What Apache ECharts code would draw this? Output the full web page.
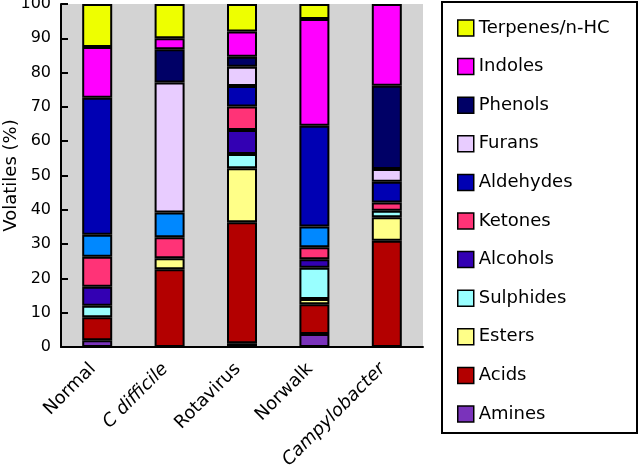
<!DOCTYPE html>
<html>
<head>
<meta charset="utf-8">
<script src="https://cdn.jsdelivr.net/npm/echarts@6/dist/echarts.min.js"></script>
<style>
  html, body { margin: 0; padding: 0; background: #fff; }
  #chart { width: 640px; height: 465px; }
</style>
</head>
<body>
<div id="chart"></div>
<script>
// categories along the x axis
var categories = ['Normal', 'C difficile', 'Rotavirus', 'Norwalk', 'Campylobacter'];

// stacked from the bottom up (values in %)
var amines     = [2.0, 0,    1.1,  3.8,  0];
var acids      = [6.7, 22.7, 35.3, 8.7,  31.0];
var esters     = [0,   3.2,  15.7, 1.5,  6.8];
var sulphides  = [3.3, 0,    4.2,  9.1,  1.9];
var alcohols   = [5.6, 0,    7.0,  2.5,  0];
var ketones    = [8.7, 6.1,  6.8,  3.5,  2.4];
var other      = [6.4, 7.2,  0,    6.0,  0];   // light blue band, not in the legend
var aldehydes  = [40.0, 0,   6.0,  29.4, 6.1];
var furans     = [0,   37.9, 5.6,  0,    3.7];
var phenols    = [0,   9.7,  2.9,  0,    24.3];
var indoles    = [14.8, 3.2, 7.4,  31.1, 23.8];
var terpenes   = [12.5, 10.0, 8.0, 4.4,  0];

var yTicks = [0, 10, 20, 30, 40, 50, 60, 70, 80, 90, 100];

var FONT = 'DejaVu Sans';

var seriesDefs = [
  ['Amines', amines, '#7a33bb'],
  ['Acids', acids, '#b30000'],
  ['Esters', esters, '#ffff88'],
  ['Sulphides', sulphides, '#99ffff'],
  ['Alcohols', alcohols, '#3300b3'],
  ['Ketones', ketones, '#ff3377'],
  ['Other', other, '#0088ff'],
  ['Aldehydes', aldehydes, '#0000b3'],
  ['Furans', furans, '#e8ccff'],
  ['Phenols', phenols, '#000066'],
  ['Indoles', indoles, '#ff00ff'],
  ['Terpenes/n-HC', terpenes, '#eeff00']
];

var legendNames = seriesDefs.map(function (d) { return d[0]; })
  .filter(function (n) { return n !== 'Other'; }).reverse();

var series = seriesDefs.map(function (d) {
  return {
    name: d[0],
    type: 'bar',
    stack: 'total',
    barWidth: 30,
    data: d[1].map(function (v) { return v === 0 ? '-' : v; }),
    itemStyle: { color: d[2], borderColor: '#000', borderWidth: 2 }
  };
});

var chart = echarts.init(document.getElementById('chart'));
chart.setOption({
  animation: false,
  textStyle: { fontFamily: FONT, color: '#000' },
  grid: {
    left: 61, right: 217, top: 4, bottom: 118,
    outerBoundsMode: 'none', containLabel: false,
    show: true, backgroundColor: '#d3d3d3', borderWidth: 0
  },
  legend: {
    data: legendNames,
    orient: 'vertical',
    left: 457, top: 19,
    padding: 0,
    itemWidth: 16, itemHeight: 16,
    itemGap: 20.6,
    icon: 'rect',
    itemStyle: { borderColor: '#000', borderWidth: 1.5 },
    textStyle: { fontSize: 18, color: '#000', fontFamily: FONT },
    selectedMode: false
  },
  graphic: [{
    type: 'rect',
    shape: { x: 442, y: 2, width: 195, height: 431 },
    style: { fill: 'none', stroke: '#000', lineWidth: 2 }
  }],
  xAxis: {
    type: 'category',
    data: categories,
    axisLine: { lineStyle: { color: '#000', width: 2 } },
    axisTick: { inside: true, length: 6, lineStyle: { width: 2 } },
    axisLabel: {
      rotate: 45, fontSize: 18, color: '#000', margin: 15,
      padding: [0, 6, 0, 0],
      formatter: function (v) {
        return (v === 'C difficile' || v === 'Campylobacter') ? '{i|' + v + '}' : v;
      },
      rich: { i: { fontStyle: 'italic', fontSize: 18, fontFamily: FONT } }
    }
  },
  yAxis: {
    type: 'value',
    min: yTicks[0], max: yTicks[yTicks.length - 1], interval: 10,
    name: 'Volatiles (%)',
    nameLocation: 'middle',
    nameGap: 41,
    nameMoveOverlap: false,
    nameTextStyle: { fontSize: 18, color: '#000', fontFamily: FONT },
    axisLine: { show: true, lineStyle: { color: '#000', width: 2 } },
    axisTick: { show: true, inside: true, length: 7, lineStyle: { width: 2 } },
    axisLabel: { fontSize: 16, color: '#000', margin: 10 },
    splitLine: { show: false }
  },
  series: series
});
</script>
</body>
</html>
